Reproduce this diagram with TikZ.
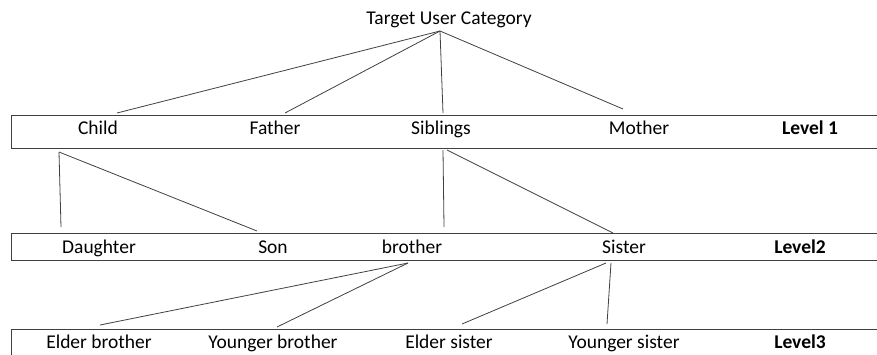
\documentclass[tikz,border=0pt]{standalone}
\usepackage{fontspec}
\setmainfont{Carlito}
\begin{document}
\begin{tikzpicture}[x=1pt,y=-1pt,
  lbl/.style={anchor=base,inner sep=0pt,font=\fontsize{19.5}{22}\selectfont},
  lvl/.style={lbl,font=\fontsize{19.5}{22}\selectfont\bfseries},
  band/.style={draw=black!75,line width=0.9pt},
  link/.style={draw=black!75,line width=0.8pt}]
\useasboundingbox (0,0) rectangle (877,354);
\clip (0,0) rectangle (877,354);
% bands
\draw[band] (11,115) rectangle (895,148);
\draw[band] (11,233) rectangle (895,260);
\draw[band] (11,329) rectangle (895,380);
% labels
\node[lbl] (title) at (449,24) {Target User Category};
\node[lbl] (child) at (98,134) {Child};
\node[lbl] (father) at (275,134) {Father};
\node[lbl] (siblings) at (441,134) {Siblings};
\node[lbl] (mother) at (639,134) {Mother};
\node[lvl] (lv1) at (810,134) {Level 1};
\node[lbl] (daughter) at (99,253) {Daughter};
\node[lbl] (son) at (273,253) {Son};
\node[lbl] (brother) at (412,253) {brother};
\node[lbl] (sister) at (624,253) {Sister};
\node[lvl] (lv2) at (800,253) {Level2};
\node[lbl] (ebro) at (99,348) {Elder brother};
\node[lbl] (ybro) at (273,348) {Younger brother};
\node[lbl] (esis) at (449,348) {Elder sister};
\node[lbl] (ysis) at (624,348) {Younger sister};
\node[lvl] (lv3) at (800,348) {Level3};
% connector end points
\coordinate (tA) at (440,31);
\coordinate (cT) at (117,113);
\coordinate (fT) at (285,113);
\coordinate (sT) at (443,113);
\coordinate (mT) at (623,109);
\coordinate (cB) at (59,152);
\coordinate (dT) at (61,227);
\coordinate (soT) at (257,231);
\coordinate (sbB) at (443,150);
\coordinate (sbB2) at (447,150);
\coordinate (bT) at (444,227);
\coordinate (siT) at (613,233);
\coordinate (bB) at (408,263);
\coordinate (ebT) at (100,325);
\coordinate (ybT) at (277,327);
\coordinate (siB) at (606,263);
\coordinate (siB2) at (611,263);
\coordinate (esT) at (462,324);
\coordinate (ysT) at (607,324);
% connectors
\draw[link] (tA) -- (cT);
\draw[link] (tA) -- (fT);
\draw[link] (tA) -- (sT);
\draw[link] (tA) -- (mT);
\draw[link] (cB) -- (dT);
\draw[link] (cB) -- (soT);
\draw[link] (sbB) -- (bT);
\draw[link] (sbB2) -- (siT);
\draw[link] (bB) -- (ebT);
\draw[link] (bB) -- (ybT);
\draw[link] (siB) -- (esT);
\draw[link] (siB2) -- (ysT);
\end{tikzpicture}
\end{document}
